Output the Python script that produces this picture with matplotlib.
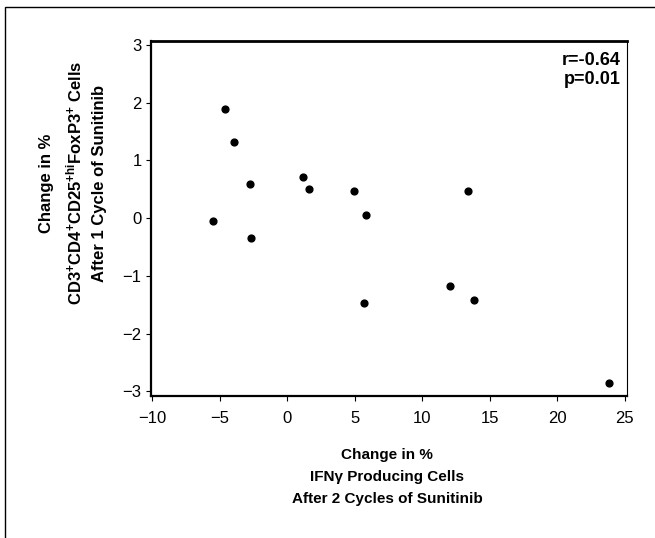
import matplotlib
matplotlib.use('Agg')
import matplotlib.pyplot as plt
from matplotlib.patches import Rectangle

plt.rcParams['font.family'] = ['Liberation Sans', 'DejaVu Sans']
plt.rcParams['mathtext.fontset'] = 'custom'
plt.rcParams['mathtext.bf'] = 'Liberation Sans:bold'
plt.rcParams['mathtext.rm'] = 'Liberation Sans:bold'
plt.rcParams['mathtext.default'] = 'bf'

# change in IFNg producing cells (x) vs change in Treg (y)
ifng_change = [-4.61, -3.93, -2.76, -5.53, -2.71, 1.14, 1.63, 4.92, 5.83, 5.68,
               13.41, 12.03, 13.81, 23.85]
treg_change = [1.89, 1.32, 0.60, -0.05, -0.34, 0.72, 0.50, 0.48, 0.06, -1.47,
               0.48, -1.18, -1.42, -2.86]

x_ticks = [-10, -5, 0, 5, 10, 15, 20, 25]
y_ticks = [-3, -2, -1, 0, 1, 2, 3]

stats_text = 'r=-0.64\np=0.01'
x_label = 'Change in %\nIFN\u03b3 Producing Cells\nAfter 2 Cycles of Sunitinib'
y_label = ('Change in %\n'
           r'CD3$^{+}$CD4$^{+}$CD25$^{+hi}$FoxP3$^{+}$ Cells' '\n'
           'After 1 Cycle of Sunitinib')

fig = plt.figure(figsize=(6.55, 5.38), dpi=100)
ax = fig.add_axes([0.230, 0.2639, 0.7277, 0.6599])

ax.scatter(ifng_change, treg_change, s=24, color='black', zorder=3)

ax.set_xlim(-10.12, 25.18)
ax.set_ylim(-3.08, 3.07)
ax.set_xticks(x_ticks)
ax.set_yticks(y_ticks)
ax.tick_params(direction='out', length=3.5, width=0.8, labelsize=12)
ax.tick_params(axis='x', pad=7.5)
ax.tick_params(axis='y', pad=3)

for side in ['left', 'bottom']:
    ax.spines[side].set_linewidth(1.6)
ax.spines['top'].set_linewidth(2.0)
ax.spines['right'].set_linewidth(0.8)

ax.text(0.987, 0.97, stats_text, transform=ax.transAxes, ha='right', va='top',
        fontsize=13, fontweight='bold', linespacing=1.2)

fig.text(387 / 655, 1 - 477 / 538, x_label, ha='center', va='center',
         fontsize=11, fontweight='bold', linespacing=1.72)
fig.text(73 / 655, 1 - 183 / 538, y_label, ha='center', va='center',
         rotation=90, fontsize=12, fontweight='bold', linespacing=1.6,
         multialignment='center')

# outer frame of the original figure panel
fig.patches.append(Rectangle((5 / 655, -0.1), 1.2, 1.1 - 7 / 538,
                             transform=fig.transFigure, fill=False,
                             edgecolor='black', linewidth=1.0))

fig.savefig('out.png', dpi=100)
